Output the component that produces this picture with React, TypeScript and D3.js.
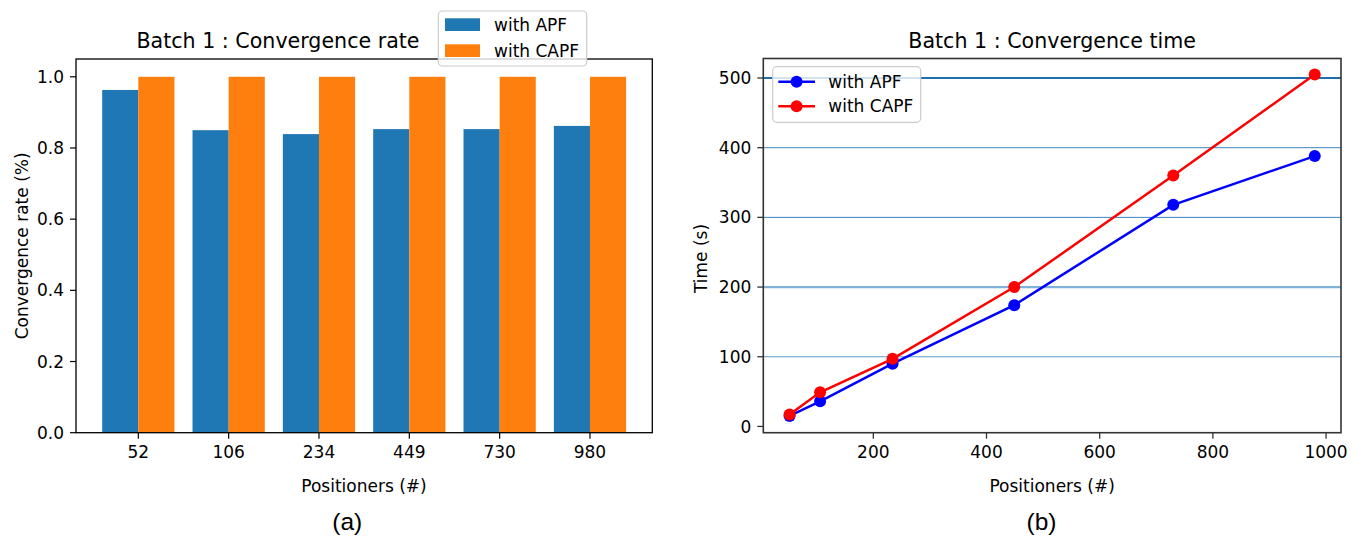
import * as d3 from "d3";

const positioners = [52, 106, 234, 449, 730, 980];
const rateAPF = [0.963, 0.85, 0.839, 0.853, 0.853, 0.862];
const rateCAPF = [1, 1, 1, 1, 1, 1];
const timeAPF = [15, 36, 90, 174, 318, 388];
const timeCAPF = [17, 49, 97, 200, 360, 505];
const seriesNames = ["with APF", "with CAPF"];
const hLines = [100, 200, 300, 400, 500];

const W = 1358;
const H = 537;
const FONT = "'DejaVu Sans', sans-serif";

// left panel scales
const xBand = d3
  .scaleBand<string>()
  .domain(positioners.map(String))
  .range([76, 652.3])
  .paddingInner(0.2)
  .paddingOuter(0.29);
const xSub = d3.scaleBand<string>().domain(seriesNames).range([0, xBand.bandwidth()]);
const yRate = d3.scaleLinear().domain([0, 1.05]).range([432.7, 59]);

// right panel scales
const xTime = d3.scaleLinear().domain([5.6, 1026.4]).range([763.3, 1341]);
const yTime = d3.scaleLinear().domain([-9, 528]).range([432.7, 58.5]);

const barColors = ["#1f77b4", "#ff7f0e"];
const lineColors = ["#0000ff", "#ff0000"];

// thickness/shade of the horizontal reference lines in panel (b)
const hLineStyle: Record<number, [string, number]> = {
  100: ["#5c9dcc", 1.2],
  200: ["#7fb2da", 2.2],
  300: ["#3a86c0", 1],
  400: ["#3a86c0", 1],
  500: ["#1f6fae", 2.2],
};

export default function App() {
  const rateSeries = [rateAPF, rateCAPF];
  const timeSeries = [timeAPF, timeCAPF];
  const line = d3
    .line<number>()
    .x((_, i) => xTime(positioners[i]))
    .y((d) => yTime(d));

  const [lx0, lx1] = xBand.range();
  const [ly0, ly1] = yRate.range();
  const [rx0, rx1] = xTime.range();
  const [ry0, ry1] = yTime.range();

  return (
    <svg
      width={W}
      height={H}
      style={{ position: "fixed", left: 0, top: 0, background: "#fff" }}
      fontFamily={FONT}
    >
      {/* ---------- (a) bar chart ---------- */}
      <g>
        {positioners.map((p, i) =>
          rateSeries.map((s, k) => (
            <rect
              key={`${p}-${k}`}
              x={xBand(String(p))! + xSub(seriesNames[k])!}
              y={yRate(s[i])}
              width={xSub.bandwidth()}
              height={yRate(0) - yRate(s[i])}
              fill={barColors[k]}
            />
          ))
        )}
        <rect x={lx0} y={ly1} width={lx1 - lx0} height={ly0 - ly1} fill="none" stroke="#000" strokeWidth={1.3} />
        {yRate.ticks(5).map((t) => (
          <g key={t}>
            <line x1={lx0 - 6} x2={lx0} y1={yRate(t)} y2={yRate(t)} stroke="#000" strokeWidth={1.2} />
            <text x={lx0 - 12} y={yRate(t)} dy="0.36em" textAnchor="end" fontSize={17}>
              {d3.format(".1f")(t)}
            </text>
          </g>
        ))}
        {positioners.map((p) => {
          const cx = xBand(String(p))! + xBand.bandwidth() / 2;
          return (
            <g key={p}>
              <line x1={cx} x2={cx} y1={ly0} y2={ly0 + 6} stroke="#000" strokeWidth={1.2} />
              <text x={cx} y={457.5} textAnchor="middle" fontSize={17}>
                {p}
              </text>
            </g>
          );
        })}
        <text x={278} y={48} textAnchor="middle" fontSize={20.6}>
          Batch 1 : Convergence rate
        </text>
        <text x={364} y={491.5} textAnchor="middle" fontSize={17}>
          Positioners (#)
        </text>
        <text transform={`translate(28,${(ly0 + ly1) / 2}) rotate(-90)`} textAnchor="middle" fontSize={17}>
          Convergence rate (%)
        </text>
        {/* legend */}
        <rect x={438.3} y={11} width={148.4} height={55} rx={4} fill="#fff" fillOpacity={0.8} stroke="#cccccc" strokeWidth={1.2} />
        {seriesNames.map((n, k) => (
          <g key={n}>
            <rect x={445} y={18.3 + k * 26} width={35} height={12.7} fill={barColors[k]} />
            <text x={494} y={30.8 + k * 26} fontSize={17}>
              {n}
            </text>
          </g>
        ))}
        <text x={347.3} y={530} textAnchor="middle" fontSize={24.5} fontFamily="'Liberation Sans', Arial, sans-serif">
          (a)
        </text>
      </g>

      {/* ---------- (b) line chart ---------- */}
      <g>
        {hLines.map((v) => (
          <line
            key={v}
            x1={rx0}
            x2={rx1}
            y1={yTime(v)}
            y2={yTime(v)}
            stroke={hLineStyle[v][0]}
            strokeWidth={hLineStyle[v][1]}
          />
        ))}
        {timeSeries.map((s, k) => (
          <g key={k}>
            <path d={line(s)!} fill="none" stroke={lineColors[k]} strokeWidth={2.5} />
            {s.map((v, i) => (
              <circle key={i} cx={xTime(positioners[i])} cy={yTime(v)} r={6} fill={lineColors[k]} />
            ))}
          </g>
        ))}
        <rect x={rx0} y={ry1} width={rx1 - rx0} height={ry0 - ry1} fill="none" stroke="#333" strokeWidth={1.6} />
        {yTime.ticks(6).map((t) => (
          <g key={t}>
            <line x1={rx0 - 6} x2={rx0} y1={yTime(t)} y2={yTime(t)} stroke="#333" strokeWidth={1.3} />
            <text x={rx0 - 12} y={yTime(t)} dy="0.36em" textAnchor="end" fontSize={17}>
              {t}
            </text>
          </g>
        ))}
        {xTime.ticks(5).map((t) => (
          <g key={t}>
            <line x1={xTime(t)} x2={xTime(t)} y1={ry0} y2={ry0 + 6} stroke="#333" strokeWidth={1.3} />
            <text x={xTime(t)} y={457.5} textAnchor="middle" fontSize={17}>
              {t}
            </text>
          </g>
        ))}
        <text x={(rx0 + rx1) / 2} y={48} textAnchor="middle" fontSize={20.6}>
          Batch 1 : Convergence time
        </text>
        <text x={(rx0 + rx1) / 2} y={491.5} textAnchor="middle" fontSize={17}>
          Positioners (#)
        </text>
        <text transform={`translate(707.3,258.5) rotate(-90)`} textAnchor="middle" fontSize={17}>
          Time (s)
        </text>
        {/* legend */}
        <rect x={772.7} y={66.7} width={148} height={55.6} rx={4} fill="#fff" fillOpacity={0.8} stroke="#cccccc" strokeWidth={1.2} />
        {seriesNames.map((n, k) => (
          <g key={n}>
            <line x1={778.3} x2={815} y1={81.7 + k * 24.5} y2={81.7 + k * 24.5} stroke={lineColors[k]} strokeWidth={2.5} />
            <circle cx={796.6} cy={81.7 + k * 24.5} r={6} fill={lineColors[k]} />
            <text x={828.3} y={81.7 + k * 24.5} dy="0.36em" fontSize={17}>
              {n}
            </text>
          </g>
        ))}
        <text x={1041.5} y={530} textAnchor="middle" fontSize={24.5} fontFamily="'Liberation Sans', Arial, sans-serif">
          (b)
        </text>
      </g>
    </svg>
  );
}
